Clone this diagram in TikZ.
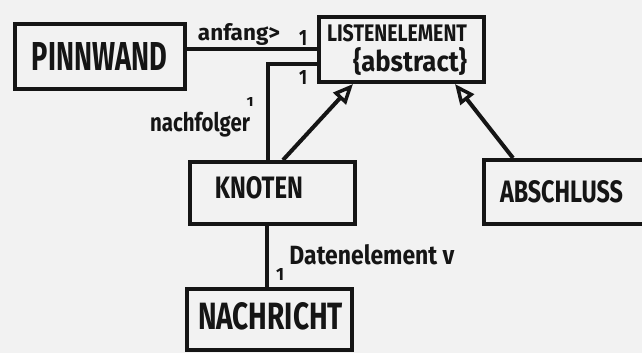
\documentclass[tikz,border=0pt]{standalone}
\usepackage{fontspec}
\setmainfont{Fira Sans}
\usetikzlibrary{arrows.meta}
\definecolor{inkc}{HTML}{151515}
\definecolor{paper}{HTML}{F2F2F2}
\newcommand{\fitx}[3]{\resizebox{#1pt}{#2pt}{\bfseries #3}}
\newcommand{\fitt}[3]{\resizebox*{#1pt}{#2pt}{\bfseries #3}}
\begin{document}
\begin{tikzpicture}[x=1pt,y=-1pt,
  ink/.style={draw=inkc, line width=4pt},
  box/.style={ink, rectangle, inner sep=0pt, anchor=north west},
  lbl/.style={inner sep=0pt, text=inkc},
  inherit/.style={ink, -{Triangle[open,length=20pt,width=17pt,line width=3.5pt]}},
  assoc/.style={ink},
]
\fill[paper] (0,0) rectangle (642,353);
\useasboundingbox (0,0) rectangle (642,353);
\clip (0,0) rectangle (642,353);

% boxes
\node[box, minimum width=170pt, minimum height=65pt] (pw) at (13,22) {};
\node[box, minimum width=165pt, minimum height=65pt] (le) at (317,15) {};
\node[box, minimum width=165pt, minimum height=62pt] (kn) at (188,160) {};
\node[box, minimum width=170pt, minimum height=64pt] (ab) at (482,158) {};
\node[box, minimum width=165pt, minimum height=61pt] (na) at (185,287) {};

% box labels
\node[lbl] (tpw) at (99.5,56) {\fitx{135}{28}{PINNWAND}};
\node[lbl] (tle) at (397,33.5) {\fitx{140}{17}{LISTENELEMENT}};
\node[lbl] (tab) at (410,61) {\fitt{114}{28}{\{abstract\}}};
\node[lbl] (tkn) at (259,188) {\fitx{88}{22}{KNOTEN}};
\node[lbl] (tas) at (561.5,191.5) {\fitx{123}{22}{ABSCHLUSS}};
\node[lbl] (tna) at (270.5,316.5) {\fitx{145}{27}{NACHRICHT}};

% connector helper coordinates
\coordinate (ya) at (0,49);
\coordinate (yn) at (268,64);
\coordinate (xk) at (283,0);
\coordinate (xl) at (353,0);
\coordinate (xa) at (513,0);
\coordinate (xr) at (455,0);
\coordinate (xd) at (267,0);

% associations
\draw[assoc] (pw.east |- ya) -- (le.west |- ya);
\draw[assoc] (kn.north -| yn) |- (le.west |- yn);
\draw[assoc] (kn.south -| xd) -- (na.north -| xd);

% generalisations
\draw[inherit] (kn.north -| xk) -- (le.south -| xl);
\draw[inherit] (ab.north -| xa) -- (le.south -| xr);

% association labels
\node[lbl] (anf) at (239,34) {\fitt{82}{22}{anfang>}};
\node[lbl] (m1) at (303,37.5) {\fitx{8}{15}{1}};
\node[lbl] (m2) at (303,77) {\fitx{8}{14}{1}};
\node[lbl] (nf) at (200,124.5) {\fitt{100}{25}{nachfolger}};
\node[lbl] (m3) at (250,102) {\fitx{7}{9}{1}};
\node[lbl] (dat) at (372,255) {\fitx{165}{20}{Datenelement v}};
\node[lbl] (m4) at (280,274) {\fitx{8}{12}{1}};
\end{tikzpicture}
\end{document}
